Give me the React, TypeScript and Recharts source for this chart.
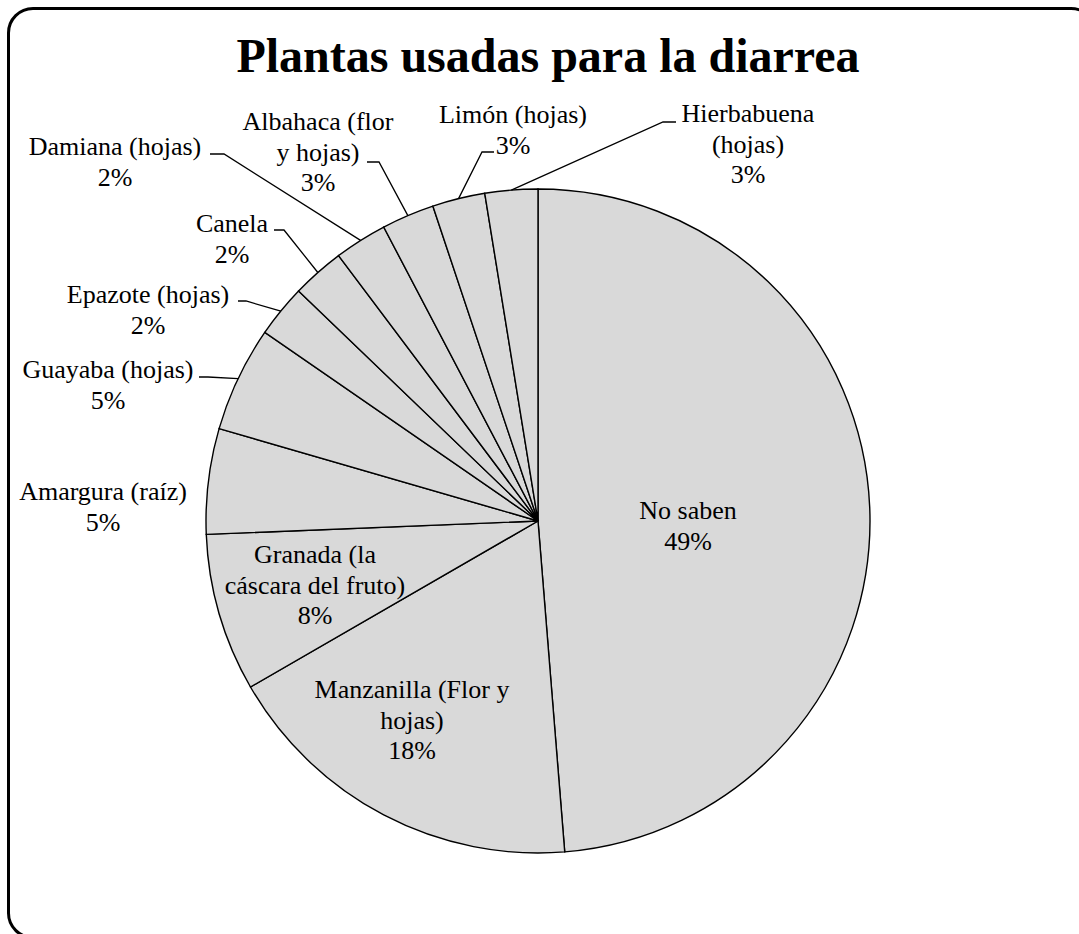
import { PieChart, Pie, Cell } from "recharts";

// slices clockwise from 12 o'clock (respondent counts, n = 39)
const plants = [
  "No saben",
  "Manzanilla (Flor y hojas)",
  "Granada (la cáscara del fruto)",
  "Amargura (raíz)",
  "Guayaba (hojas)",
  "Epazote (hojas)",
  "Canela",
  "Damiana (hojas)",
  "Albahaca (flor y hojas)",
  "Limón (hojas)",
  "Hierbabuena (hojas)",
];
const counts = [19, 7, 3, 2, 2, 1, 1, 1, 1, 1, 1];
const pctLabels = ["49%", "18%", "8%", "5%", "5%", "2%", "2%", "2%", "3%", "3%", "3%"];

// how each category name wraps in the label box
const nameLines = [
  ["No saben"],
  ["Manzanilla (Flor y", "hojas)"],
  ["Granada (la", "cáscara del fruto)"],
  ["Amargura (raíz)"],
  ["Guayaba (hojas)"],
  ["Epazote (hojas)"],
  ["Canela"],
  ["Damiana (hojas)"],
  ["Albahaca (flor", "y hojas)"],
  ["Limón (hojas)"],
  ["Hierbabuena", "(hojas)"],
];

const W = 1079;
const H = 934;
const FONT = "'Liberation Serif', 'Times New Roman', serif";
const LINE_H = 30.5;
const RADIAN = Math.PI / 180;

// label box placement: center x, first baseline y, optional leader (elbow x, elbow y, end x)
type Place = { x: number; y: number; leader?: [number, number, number] };
const places: Place[] = [
  { x: 688, y: 519 },
  { x: 412, y: 698 },
  { x: 315, y: 563 },
  { x: 103, y: 500 },
  { x: 108, y: 378, leader: [208, 377, 199] },
  { x: 148, y: 303, leader: [246, 301, 238] },
  { x: 232, y: 232, leader: [284, 230, 274] },
  { x: 115, y: 155, leader: [224, 154, 210] },
  { x: 318, y: 130, leader: [379, 162, 367] },
  { x: 513, y: 123, leader: [482, 152, 494] },
  { x: 748, y: 122, leader: [663, 122, 676] },
];

const data = plants.map((name, i) => ({ name, value: counts[i] }));

function renderLabel(props: any) {
  const { cx, cy, midAngle, outerRadius, index } = props;
  const p = places[index];
  const lines = [...nameLines[index], pctLabels[index]];
  const ax = cx + outerRadius * Math.cos(-midAngle * RADIAN);
  const ay = cy + outerRadius * Math.sin(-midAngle * RADIAN);
  return (
    <g key={`lbl-${index}`}>
      {p.leader && (
        <polyline
          points={`${ax},${ay} ${p.leader[0]},${p.leader[1]} ${p.leader[2]},${p.leader[1]}`}
          fill="none"
          stroke="#000"
          strokeWidth={1.3}
        />
      )}
      <text x={p.x} y={p.y} textAnchor="middle" fontFamily={FONT} fontSize={26} fill="#000">
        {lines.map((l, i) => (
          <tspan key={i} x={p.x} y={p.y + i * LINE_H}>
            {l}
          </tspan>
        ))}
      </text>
    </g>
  );
}

export default function App() {
  return (
    <div
      style={{
        position: "absolute",
        left: 0,
        top: 0,
        width: W,
        height: H,
        overflow: "hidden",
        background: "#fff",
      }}
    >
      {/* rounded chart-area border, runs off the right and bottom edges */}
      <div
        style={{
          position: "absolute",
          left: 6.5,
          top: 6.5,
          width: 1084,
          height: 926,
          border: "3px solid #000",
          borderRadius: 26,
        }}
      />
      <div
        style={{
          position: "absolute",
          left: 0,
          top: 28,
          width: 1096,
          textAlign: "center",
          fontFamily: FONT,
          fontWeight: "bold",
          fontSize: 48,
          lineHeight: "56px",
          color: "#000",
        }}
      >
        Plantas usadas para la diarrea
      </div>
      <div style={{ position: "absolute", left: 0, top: 0 }}>
        <PieChart width={W} height={H} margin={{ top: 0, right: 0, bottom: 0, left: 0 }}>
          <Pie
            data={data}
            dataKey="value"
            nameKey="name"
            cx={538}
            cy={521}
            outerRadius={332}
            startAngle={90}
            endAngle={-270}
            stroke="#000"
            strokeWidth={1.4}
            label={renderLabel}
            labelLine={false}
            isAnimationActive={false}
          >
            {data.map((d) => (
              <Cell key={d.name} fill="#d9d9d9" />
            ))}
          </Pie>
        </PieChart>
      </div>
    </div>
  );
}
